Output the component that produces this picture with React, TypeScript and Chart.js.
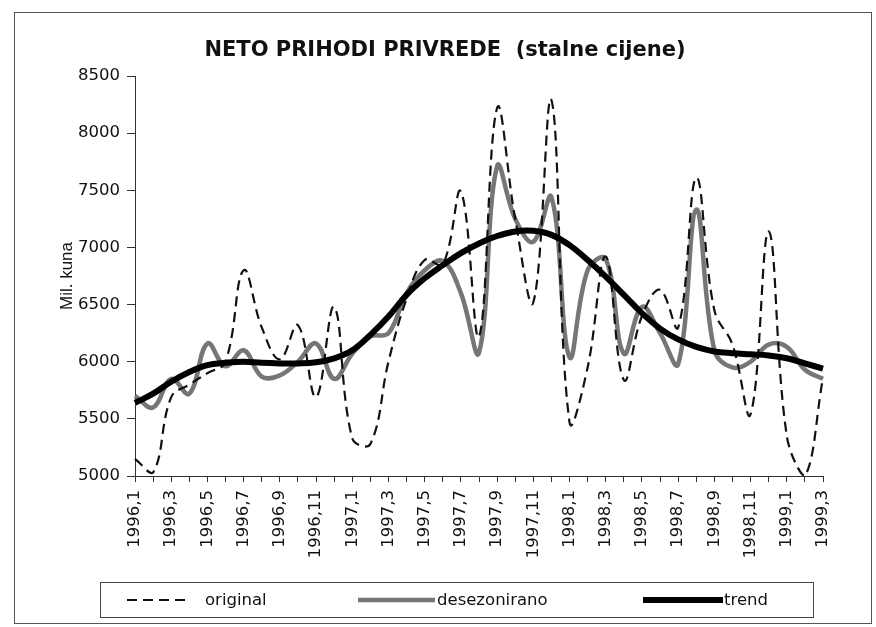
import React, { useEffect, useRef } from 'react';
import { Chart, registerables } from 'chart.js';

Chart.register(...registerables);

const categories = [
  '1996,1', '1996,2', '1996,3', '1996,4', '1996,5', '1996,6', '1996,7', '1996,8', '1996,9', '1996,10', '1996,11', '1996,12',
  '1997,1', '1997,2', '1997,3', '1997,4', '1997,5', '1997,6', '1997,7', '1997,8', '1997,9', '1997,10', '1997,11', '1997,12',
  '1998,1', '1998,2', '1998,3', '1998,4', '1998,5', '1998,6', '1998,7', '1998,8', '1998,9', '1998,10', '1998,11', '1998,12',
  '1999,1', '1999,2', '1999,3',
];

const original = [
  5150, 5030, 5690, 5800, 5900, 6000, 6800, 6300, 6020, 6320, 5690, 6480,
  5330, 5280, 6000, 6550, 6890, 6850, 7490, 6220, 8220, 7250, 6520, 8290,
  5470, 5950, 6920, 5840, 6400, 6630, 6300, 7610, 6450, 6150, 5540, 7140,
  5350, 5000, 5860,
];

const desezonirano = [
  5700, 5600, 5850, 5720, 6160, 5960, 6100, 5870, 5880, 6000, 6160, 5850,
  6070, 6220, 6250, 6600, 6800, 6880, 6600, 6080, 7710, 7250, 7050, 7440,
  6040, 6800, 6900, 6070, 6480, 6250, 5980, 7330, 6100, 5950, 6000, 6150,
  6130, 5930, 5850,
];

const trend = [
  5640, 5720, 5825, 5910, 5970, 5990, 6000, 5990, 5985, 5985, 5995, 6030,
  6100, 6235, 6395, 6585, 6730, 6845, 6950, 7035, 7100, 7140, 7145, 7110,
  7020, 6890, 6745, 6585, 6425, 6290, 6195, 6130, 6090, 6075, 6065, 6055,
  6030, 5985, 5940,
];

const seriesNames = ['original', 'desezonirano', 'trend'];
const titleText = 'NETO PRIHODI PRIVREDE  (stalne cijene)';
const yAxisTitle = 'Mil. kuna';
const yMin = 5000;
const yMax = 8500;
const yStep = 500;

const FONT = '"DejaVu Sans", "Liberation Sans", Arial, sans-serif';

const decorPlugin = {
  id: 'decor',
  beforeDraw(chart: any) {
    const ctx = chart.ctx;
    ctx.save();
    ctx.fillStyle = '#ffffff';
    ctx.fillRect(0, 0, chart.width, chart.height);
    ctx.strokeStyle = '#555555';
    ctx.lineWidth = 1;
    ctx.strokeRect(14.5, 12.5, 857, 611);
    ctx.restore();
  },
  afterDraw(chart: any) {
    const ctx = chart.ctx;
    ctx.save();
    // title
    ctx.fillStyle = '#111111';
    ctx.font = 'bold 21px ' + FONT;
    ctx.textAlign = 'center';
    ctx.textBaseline = 'middle';
    ctx.fillText(titleText, 445, 51);

    // legend box
    ctx.strokeStyle = '#444444';
    ctx.lineWidth = 1;
    ctx.strokeRect(100.5, 582.5, 713, 35);

    const samples = [
      { x0: 127, x1: 190, tx: 205 },
      { x0: 358, x1: 435, tx: 437 },
      { x0: 643, x1: 723, tx: 724 },
    ];
    const ly = 600;
    chart.data.datasets.forEach((ds: any, i: number) => {
      const s = samples[i];
      ctx.save();
      ctx.strokeStyle = ds.borderColor;
      ctx.lineWidth = ds.borderWidth;
      ctx.setLineDash(ds.borderDash || []);
      ctx.lineCap = 'butt';
      ctx.beginPath();
      ctx.moveTo(s.x0, ly);
      ctx.lineTo(s.x1, ly);
      ctx.stroke();
      ctx.restore();
      ctx.fillStyle = '#111111';
      ctx.font = '16.5px ' + FONT;
      ctx.textAlign = 'left';
      ctx.textBaseline = 'middle';
      ctx.fillText(ds.label, s.tx, ly + 1);
    });
    ctx.restore();
  },
};

export default function App() {
  const canvasRef = useRef<HTMLCanvasElement | null>(null);

  useEffect(() => {
    const canvas = canvasRef.current;
    if (!canvas) return;
    const chart = new Chart(canvas, {
      type: 'line',
      data: {
        labels: categories,
        datasets: [
          {
            label: seriesNames[0],
            data: original,
            borderColor: '#111111',
            borderWidth: 2.2,
            borderDash: [10, 6],
            pointRadius: 0,
            tension: 0.4,
            fill: false,
            order: 1,
          },
          {
            label: seriesNames[1],
            data: desezonirano,
            borderColor: '#767676',
            borderWidth: 4.5,
            pointRadius: 0,
            tension: 0.4,
            fill: false,
            order: 2,
          },
          {
            label: seriesNames[2],
            data: trend,
            borderColor: '#000000',
            borderWidth: 6,
            pointRadius: 0,
            tension: 0.4,
            fill: false,
            order: 0,
          },
        ],
      },
      options: {
        responsive: false,
        animation: false,
        layout: { padding: { top: 76, right: 53, bottom: 0, left: 0 } },
        plugins: {
          legend: { display: false },
          title: { display: false },
          tooltip: { enabled: false },
        },
        scales: {
          x: {
            type: 'category',
            offset: false,
            afterFit: (scale: any) => {
              scale.height = 151;
            },
            grid: {
              display: true,
              drawOnChartArea: false,
              drawTicks: true,
              tickLength: 6,
              color: '#333333',
              lineWidth: 1,
            },
            border: { display: true, color: '#333333', width: 1 },
            ticks: {
              autoSkip: false,
              maxRotation: 90,
              minRotation: 90,
              padding: 8,
              color: '#111111',
              font: { family: FONT, size: 16.5 },
              callback: (_v: any, idx: number) => (idx % 2 === 0 ? categories[idx] : ''),
            },
          },
          y: {
            type: 'linear',
            min: yMin,
            max: yMax,
            afterFit: (scale: any) => {
              scale.width = 135;
            },
            grid: {
              display: true,
              drawOnChartArea: false,
              drawTicks: true,
              tickLength: 8,
              color: '#333333',
              lineWidth: 1,
            },
            border: { display: true, color: '#333333', width: 1 },
            ticks: {
              stepSize: yStep,
              padding: 7,
              color: '#111111',
              font: { family: FONT, size: 16.5 },
              callback: (v: any) => String(v),
            },
            title: {
              display: true,
              text: yAxisTitle,
              color: '#111111',
              font: { family: '"Liberation Sans", Arial, sans-serif', size: 17 },
              padding: { top: 57, bottom: 0 },
            },
          },
        },
      },
      plugins: [decorPlugin],
    } as any);
    return () => {
      chart.destroy();
    };
  }, []);

  return (
    <div style={{ position: 'absolute', left: 0, top: 0, width: 876, height: 627, background: '#fff' }}>
      <canvas ref={canvasRef} width={876} height={627} style={{ display: 'block', width: 876, height: 627 }} />
    </div>
  );
}
